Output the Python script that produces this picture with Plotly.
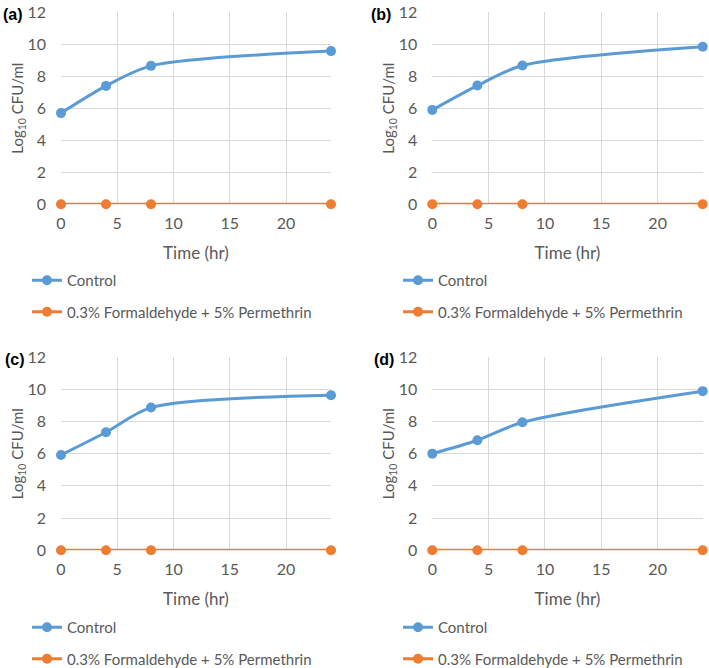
import plotly.graph_objects as go

times = [0, 4, 8, 24]
control_a = [5.69, 7.39, 8.64, 9.56]
control_b = [5.89, 7.41, 8.66, 9.83]
control_c = [5.92, 7.33, 8.86, 9.63]
control_d = [6.00, 6.83, 7.95, 9.88]
treated_a = [0, 0, 0, 0]
treated_b = [0, 0, 0, 0]
treated_c = [0, 0, 0, 0]
treated_d = [0, 0, 0, 0]
panel_labels = ["(a)", "(b)", "(c)", "(d)"]
x_ticks = [0, 5, 10, 15, 20]
y_ticks = [0, 2, 4, 6, 8, 10, 12]
series_names = ["Control", "0.3% Formaldehyde + 5% Permethrin"]

BLUE = "#5B9BD5"
ORANGE = "#ED7D31"
GRID = "#D9D9D9"
TXT = "#595959"
FONT = "Lato"

W, H = 709, 668

panels = [
    (control_a, treated_a),
    (control_b, treated_b),
    (control_c, treated_c),
    (control_d, treated_d),
]

# pixel layout of plot areas (left, right, top, bottom)
boxes = [
    (61, 331, 12, 204.3),
    (432.3, 702.7, 12, 204.3),
    (61, 331, 357, 550.3),
    (432.3, 702.7, 357, 550.3),
]
legend_pos = [(27, 264), (398, 264), (27, 611), (398, 611)]
label_pos = [(1, 15), (369, 15), (3, 359), (372, 359)]

fig = go.Figure()
layout = dict(
    width=W, height=H,
    margin=dict(l=0, r=0, t=0, b=0, autoexpand=False),
    paper_bgcolor="white", plot_bgcolor="white",
    font=dict(family=FONT, size=14, color=TXT),
    annotations=[],
)

for i, (ctrl, trt) in enumerate(panels):
    n = i + 1
    xa = "x" if n == 1 else f"x{n}"
    ya = "y" if n == 1 else f"y{n}"
    lg = "legend" if n == 1 else f"legend{n}"
    fig.add_trace(go.Scatter(
        x=times, y=ctrl, name=series_names[0], mode="lines+markers",
        line=dict(color=BLUE, width=3, shape="spline", smoothing=0.8),
        marker=dict(color=BLUE, size=10),
        xaxis=xa, yaxis=ya, legend=lg, legendgroup=f"c{n}",
        cliponaxis=False,
    ))
    fig.add_trace(go.Scatter(
        x=times, y=trt, name=series_names[1], mode="lines+markers",
        line=dict(color=ORANGE, width=3),
        marker=dict(color=ORANGE, size=10),
        xaxis=xa, yaxis=ya, legend=lg, legendgroup=f"t{n}",
        cliponaxis=False,
    ))
    l, r, t, b = boxes[i]
    xkey = "xaxis" if n == 1 else f"xaxis{n}"
    ykey = "yaxis" if n == 1 else f"yaxis{n}"
    layout[xkey] = dict(
        domain=[l / W, r / W], anchor=ya, range=[0, 24], automargin=False,
        tickvals=x_ticks, showgrid=True, gridcolor=GRID, gridwidth=1,
        zeroline=False, showline=False, ticks="",
        ticklabelstandoff=8,
        tickfont=dict(size=16, color=TXT, family=FONT),
        title=dict(text="Time (hr)", font=dict(size=17, color=TXT, family=FONT), standoff=15),
    )
    layout[ykey] = dict(
        domain=[1 - b / H, 1 - t / H], anchor=xa, range=[0, 12], automargin=False,
        tickvals=y_ticks, showgrid=True, gridcolor=GRID, gridwidth=1,
        zeroline=False, showline=False, ticks="",
        ticklabelstandoff=14,
        tickfont=dict(size=16, color=TXT, family=FONT),
        title=dict(text="Log<sub>10</sub> CFU/ml", font=dict(size=15, color=TXT, family=FONT), standoff=0),
    )
    lx, ly = legend_pos[i]
    layout[lg] = dict(
        x=lx / W, y=1 - ly / H, xanchor="left", yanchor="top",
        bgcolor="rgba(0,0,0,0)", tracegroupgap=9,
        font=dict(size=15, color=TXT, family=FONT),
        orientation="v",
    )
    px, py = label_pos[i]
    layout["annotations"].append(dict(
        text=f"<b>{panel_labels[i]}</b>", x=px / W, y=1 - py / H,
        xref="paper", yref="paper", xanchor="left", yanchor="middle",
        showarrow=False, font=dict(size=16, color="black", family="Liberation Sans"),
    ))

fig.update_layout(**layout)
fig.write_html(
    "out.html",
    config={"displayModeBar": False},
    post_script="document.body.style.margin='0';document.body.style.padding='0';",
)
